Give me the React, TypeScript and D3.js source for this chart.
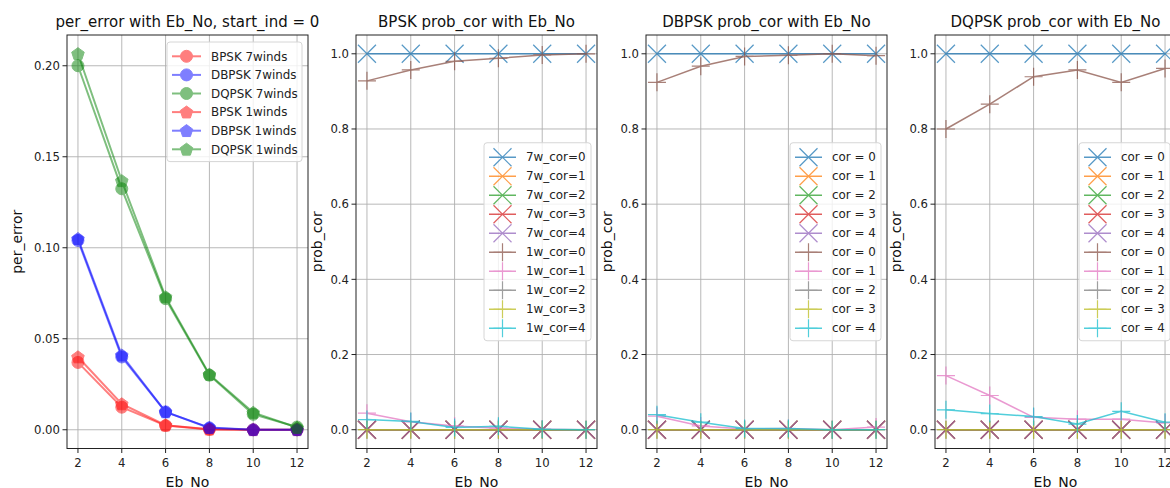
import React from "react";
import * as d3 from "d3";

// ---------- data ----------
const ebNo = [2, 4, 6, 8, 10, 12];

// panel 1: per_error
const bpsk7 = [0.037, 0.0124, 0.0023, 0.0002, 0.0, 0.0];
const dbpsk7 = [0.104, 0.040, 0.0098, 0.001, 0.0, 0.0];
const dqpsk7 = [0.200, 0.1324, 0.0720, 0.030, 0.0085, 0.0015];
const bpsk1 = [0.040, 0.0142, 0.0025, 0.0003, 0.0, 0.0];
const dbpsk1 = [0.105, 0.041, 0.0098, 0.0012, 0.0, 0.0];
const dqpsk1 = [0.2066, 0.1368, 0.0730, 0.0304, 0.0095, 0.0012];
const perErrorLabels = ["BPSK 7winds", "DBPSK 7winds", "DQPSK 7winds", "BPSK 1winds", "DBPSK 1winds", "DQPSK 1winds"];

// panel 2: BPSK prob_cor
const bpsk7wCor = [
  [1, 1, 1, 1, 1, 1],
  [0, 0, 0, 0, 0, 0],
  [0, 0, 0, 0, 0, 0],
  [0, 0, 0, 0, 0, 0],
  [0, 0, 0, 0, 0, 0],
];
const bpsk1wCor = [
  [0.928, 0.957, 0.98, 0.988, 0.997, 1.0],
  [0.044, 0.021, 0.01, 0.004, 0.001, 0.0],
  [0, 0, 0, 0, 0, 0],
  [0, 0, 0, 0, 0, 0],
  [0.027, 0.022, 0.006, 0.009, 0.001, 0.0],
];
// panel 3: DBPSK prob_cor
const dbpsk7wCor = [
  [1, 1, 1, 1, 1, 1],
  [0, 0, 0, 0, 0, 0],
  [0, 0, 0, 0, 0, 0],
  [0, 0, 0, 0, 0, 0],
  [0, 0, 0, 0, 0, 0],
];
const dbpsk1wCor = [
  [0.924, 0.967, 0.993, 0.996, 1.0, 0.995],
  [0.036, 0.01, 0.002, 0.003, 0.0, 0.007],
  [0, 0, 0, 0, 0, 0],
  [0, 0, 0, 0, 0, 0],
  [0.04, 0.02, 0.003, 0.003, 0.0, 0.0],
];
// panel 4: DQPSK prob_cor
const dqpsk7wCor = [
  [1, 1, 1, 1, 1, 1],
  [0, 0, 0, 0, 0, 0],
  [0, 0, 0, 0, 0, 0],
  [0, 0, 0, 0, 0, 0],
  [0, 0, 0, 0, 0, 0],
];
const dqpsk1wCor = [
  [0.80, 0.866, 0.939, 0.957, 0.924, 0.961],
  [0.144, 0.091, 0.033, 0.028, 0.028, 0.018],
  [0, 0, 0, 0, 0, 0],
  [0, 0, 0, 0, 0, 0],
  [0.053, 0.043, 0.035, 0.015, 0.049, 0.02],
];

const bpskLabels = ["7w_cor=0", "7w_cor=1", "7w_cor=2", "7w_cor=3", "7w_cor=4", "1w_cor=0", "1w_cor=1", "1w_cor=2", "1w_cor=3", "1w_cor=4"];
const corLabels = ["cor = 0", "cor = 1", "cor = 2", "cor = 3", "cor = 4", "cor = 0", "cor = 1", "cor = 2", "cor = 3", "cor = 4"];

const xTicks = [2, 4, 6, 8, 10, 12];
const perTicks = [0, 0.05, 0.1, 0.15, 0.2];
const probTicks = [0, 0.2, 0.4, 0.6, 0.8, 1.0];

const tab10 = ["#1f77b4", "#ff7f0e", "#2ca02c", "#d62728", "#9467bd", "#8c564b", "#e377c2", "#7f7f7f", "#bcbd22", "#17becf"];

// ---------- layout ----------
const W = 1170, H = 488;
const TOP = 35, BOTTOM = 448.5, AXW = 241;
const LEFTS = [67, 356, 646, 935];
const FONT = "DejaVu Sans, sans-serif";

function pentagon(cx: number, cy: number, r: number) {
  const pts: string[] = [];
  for (let i = 0; i < 5; i++) {
    const a = -Math.PI / 2 + (i * 2 * Math.PI) / 5;
    pts.push(`${cx + r * Math.cos(a)},${cy + r * Math.sin(a)}`);
  }
  return pts.join(" ");
}

function Marker({ kind, x, y, color, size }: { kind: string; x: number; y: number; color: string; size: number }) {
  const h = size / 2;
  if (kind === "o") return <circle cx={x} cy={y} r={h} fill={color} stroke={color} strokeWidth={1} />;
  if (kind === "p") return <polygon points={pentagon(x, y + 0.5, h * 1.1)} fill={color} stroke={color} strokeWidth={1} />;
  if (kind === "x")
    return (
      <path d={`M${x - h},${y - h}L${x + h},${y + h}M${x - h},${y + h}L${x + h},${y - h}`} stroke={color} strokeWidth={1.2} fill="none" />
    );
  return <path d={`M${x - h},${y}L${x + h},${y}M${x},${y - h}L${x},${y + h}`} stroke={color} strokeWidth={1.2} fill="none" />;
}

type Series = { values: number[]; color: string; marker: string; label: string; opacity: number; lw: number; ms: number };

function Panel({
  left, title, yLabel, yDomain, yTicks, yFmt, series, legend,
}: {
  left: number; title: string; yLabel: string; yDomain: [number, number]; yTicks: number[]; yFmt: (v: number) => string;
  series: Series[]; legend: { loc: string; width: number; rowH: number; handleW: number };
}) {
  const x = d3.scaleLinear().domain([1.5, 12.5]).range([left, left + AXW]);
  const y = d3.scaleLinear().domain(yDomain).range([BOTTOM, TOP]);
  const line = d3.line<number>().x((_, i) => x(ebNo[i])).y((v) => y(v));
  const right = left + AXW;
  const n = series.length;
  const lh = legend.rowH * n + 8;
  const lx = right - 6 - legend.width;
  const ly = legend.loc === "upper" ? TOP + 7 : (TOP + BOTTOM) / 2 - lh / 2;
  return (
    <g>
      <defs>
        <clipPath id={`clip${left}`}>
          <rect x={left} y={TOP} width={AXW} height={BOTTOM - TOP} />
        </clipPath>
      </defs>
      {/* grid */}
      {xTicks.map((t) => (
        <line key={"gx" + t} x1={x(t)} x2={x(t)} y1={TOP} y2={BOTTOM} stroke="#b0b0b0" strokeWidth={0.9} />
      ))}
      {yTicks.map((t) => (
        <line key={"gy" + t} x1={left} x2={right} y1={y(t)} y2={y(t)} stroke="#b0b0b0" strokeWidth={0.9} />
      ))}
      {/* series */}
      <g clipPath={`url(#clip${left})`}>
        {series.map((s, i) => (
          <g key={i} opacity={s.opacity}>
            <path d={line(s.values) || ""} stroke={s.color} strokeWidth={s.lw} fill="none" />
            {s.values.map((v, j) => (
              <Marker key={j} kind={s.marker} x={x(ebNo[j])} y={y(v)} color={s.color} size={s.ms} />
            ))}
          </g>
        ))}
      </g>
      {/* spines */}
      <rect x={left} y={TOP} width={AXW} height={BOTTOM - TOP} fill="none" stroke="#222" strokeWidth={1} />
      {/* ticks */}
      {xTicks.map((t) => (
        <g key={"tx" + t}>
          <line x1={x(t)} x2={x(t)} y1={BOTTOM} y2={BOTTOM + 4.5} stroke="#222" strokeWidth={1} />
          <text x={x(t)} y={BOTTOM + 18} textAnchor="middle" fontSize={11.7} fontFamily={FONT} fill="#222">
            {t}
          </text>
        </g>
      ))}
      {yTicks.map((t) => (
        <g key={"ty" + t}>
          <line x1={left - 4.5} x2={left} y1={y(t)} y2={y(t)} stroke="#222" strokeWidth={1} />
          <text x={left - 7} y={y(t) + 4.2} textAnchor="end" fontSize={11.7} fontFamily={FONT} fill="#222">
            {yFmt(t)}
          </text>
        </g>
      ))}
      {/* labels */}
      <text x={left + AXW / 2} y={TOP - 8} textAnchor="middle" fontSize={15} fontFamily={FONT} fill="#111">
        {title}
      </text>
      <text x={left + AXW / 2} y={H - 1} textAnchor="middle" fontSize={14} fontFamily={FONT} fill="#111">
        Eb_No
      </text>
      <text
        transform={`translate(${left - (yLabel === "per_error" ? 45 : 34)},${(TOP + BOTTOM) / 2}) rotate(-90)`}
        textAnchor="middle"
        fontSize={14}
        fontFamily={FONT}
        fill="#111"
      >
        {yLabel}
      </text>
      {/* legend */}
      <g>
        <rect x={lx} y={ly} width={legend.width} height={lh} rx={3} fill="white" fillOpacity={0.8} stroke="#d6d6d6" strokeWidth={1} />
        {series.map((s, i) => {
          const cy = ly + 4 + legend.rowH * (i + 0.5) + 1;
          const hx1 = lx + 5, hx2 = lx + 5 + legend.handleW;
          return (
            <g key={"lg" + i}>
              <g opacity={s.opacity}>
                <line x1={hx1} x2={hx2} y1={cy} y2={cy} stroke={s.color} strokeWidth={s.lw} />
                <Marker kind={s.marker} x={(hx1 + hx2) / 2} y={cy} color={s.color} size={s.ms} />
              </g>
              <text x={hx2 + 10} y={cy + 4.2} fontSize={11.9} fontFamily={FONT} fill="#222">
                {s.label}
              </text>
            </g>
          );
        })}
      </g>
    </g>
  );
}

function corSeries(w7: number[][], w1: number[][], labels: string[]): Series[] {
  const out: Series[] = [];
  w7.forEach((v, i) => out.push({ values: v, color: tab10[i], marker: "x", label: labels[i], opacity: 0.75, lw: 1.5, ms: 18 }));
  w1.forEach((v, i) => out.push({ values: v, color: tab10[i + 5], marker: "+", label: labels[i + 5], opacity: 0.75, lw: 1.5, ms: 18 }));
  return out;
}

export default function App() {
  const perSeries: Series[] = [
    { values: bpsk7, color: "red", marker: "o", label: perErrorLabels[0], opacity: 0.5, lw: 2, ms: 12 },
    { values: dbpsk7, color: "blue", marker: "o", label: perErrorLabels[1], opacity: 0.5, lw: 2, ms: 12 },
    { values: dqpsk7, color: "green", marker: "o", label: perErrorLabels[2], opacity: 0.5, lw: 2, ms: 12 },
    { values: bpsk1, color: "red", marker: "p", label: perErrorLabels[3], opacity: 0.5, lw: 2, ms: 12 },
    { values: dbpsk1, color: "blue", marker: "p", label: perErrorLabels[4], opacity: 0.5, lw: 2, ms: 12 },
    { values: dqpsk1, color: "green", marker: "p", label: perErrorLabels[5], opacity: 0.5, lw: 2, ms: 12 },
  ];
  const f2 = d3.format(".2f");
  const f1 = d3.format(".1f");
  return (
    <svg width={W} height={H} style={{ position: "absolute", left: 0, top: 0, background: "white" }}>
      <rect width={W} height={H} fill="white" />
      <Panel
        left={LEFTS[0]}
        title="per_error with Eb_No, start_ind = 0"
        yLabel="per_error"
        yDomain={[-0.0103, 0.2169]}
        yTicks={perTicks}
        yFmt={f2}
        series={perSeries}
        legend={{ loc: "upper", width: 135, rowH: 18.6, handleW: 29 }}
      />
      <Panel
        left={LEFTS[1]}
        title="BPSK prob_cor with Eb_No"
        yLabel="prob_cor"
        yDomain={[-0.05, 1.05]}
        yTicks={probTicks}
        yFmt={f1}
        series={corSeries(bpsk7wCor, bpsk1wCor, bpskLabels)}
        legend={{ loc: "center", width: 107, rowH: 19, handleW: 27 }}
      />
      <Panel
        left={LEFTS[2]}
        title="DBPSK prob_cor with Eb_No"
        yLabel="prob_cor"
        yDomain={[-0.05, 1.05]}
        yTicks={probTicks}
        yFmt={f1}
        series={corSeries(dbpsk7wCor, dbpsk1wCor, corLabels)}
        legend={{ loc: "center", width: 91, rowH: 19, handleW: 27 }}
      />
      <Panel
        left={LEFTS[3]}
        title="DQPSK prob_cor with Eb_No"
        yLabel="prob_cor"
        yDomain={[-0.05, 1.05]}
        yTicks={probTicks}
        yFmt={f1}
        series={corSeries(dqpsk7wCor, dqpsk1wCor, corLabels)}
        legend={{ loc: "center", width: 91, rowH: 19, handleW: 27 }}
      />
    </svg>
  );
}
